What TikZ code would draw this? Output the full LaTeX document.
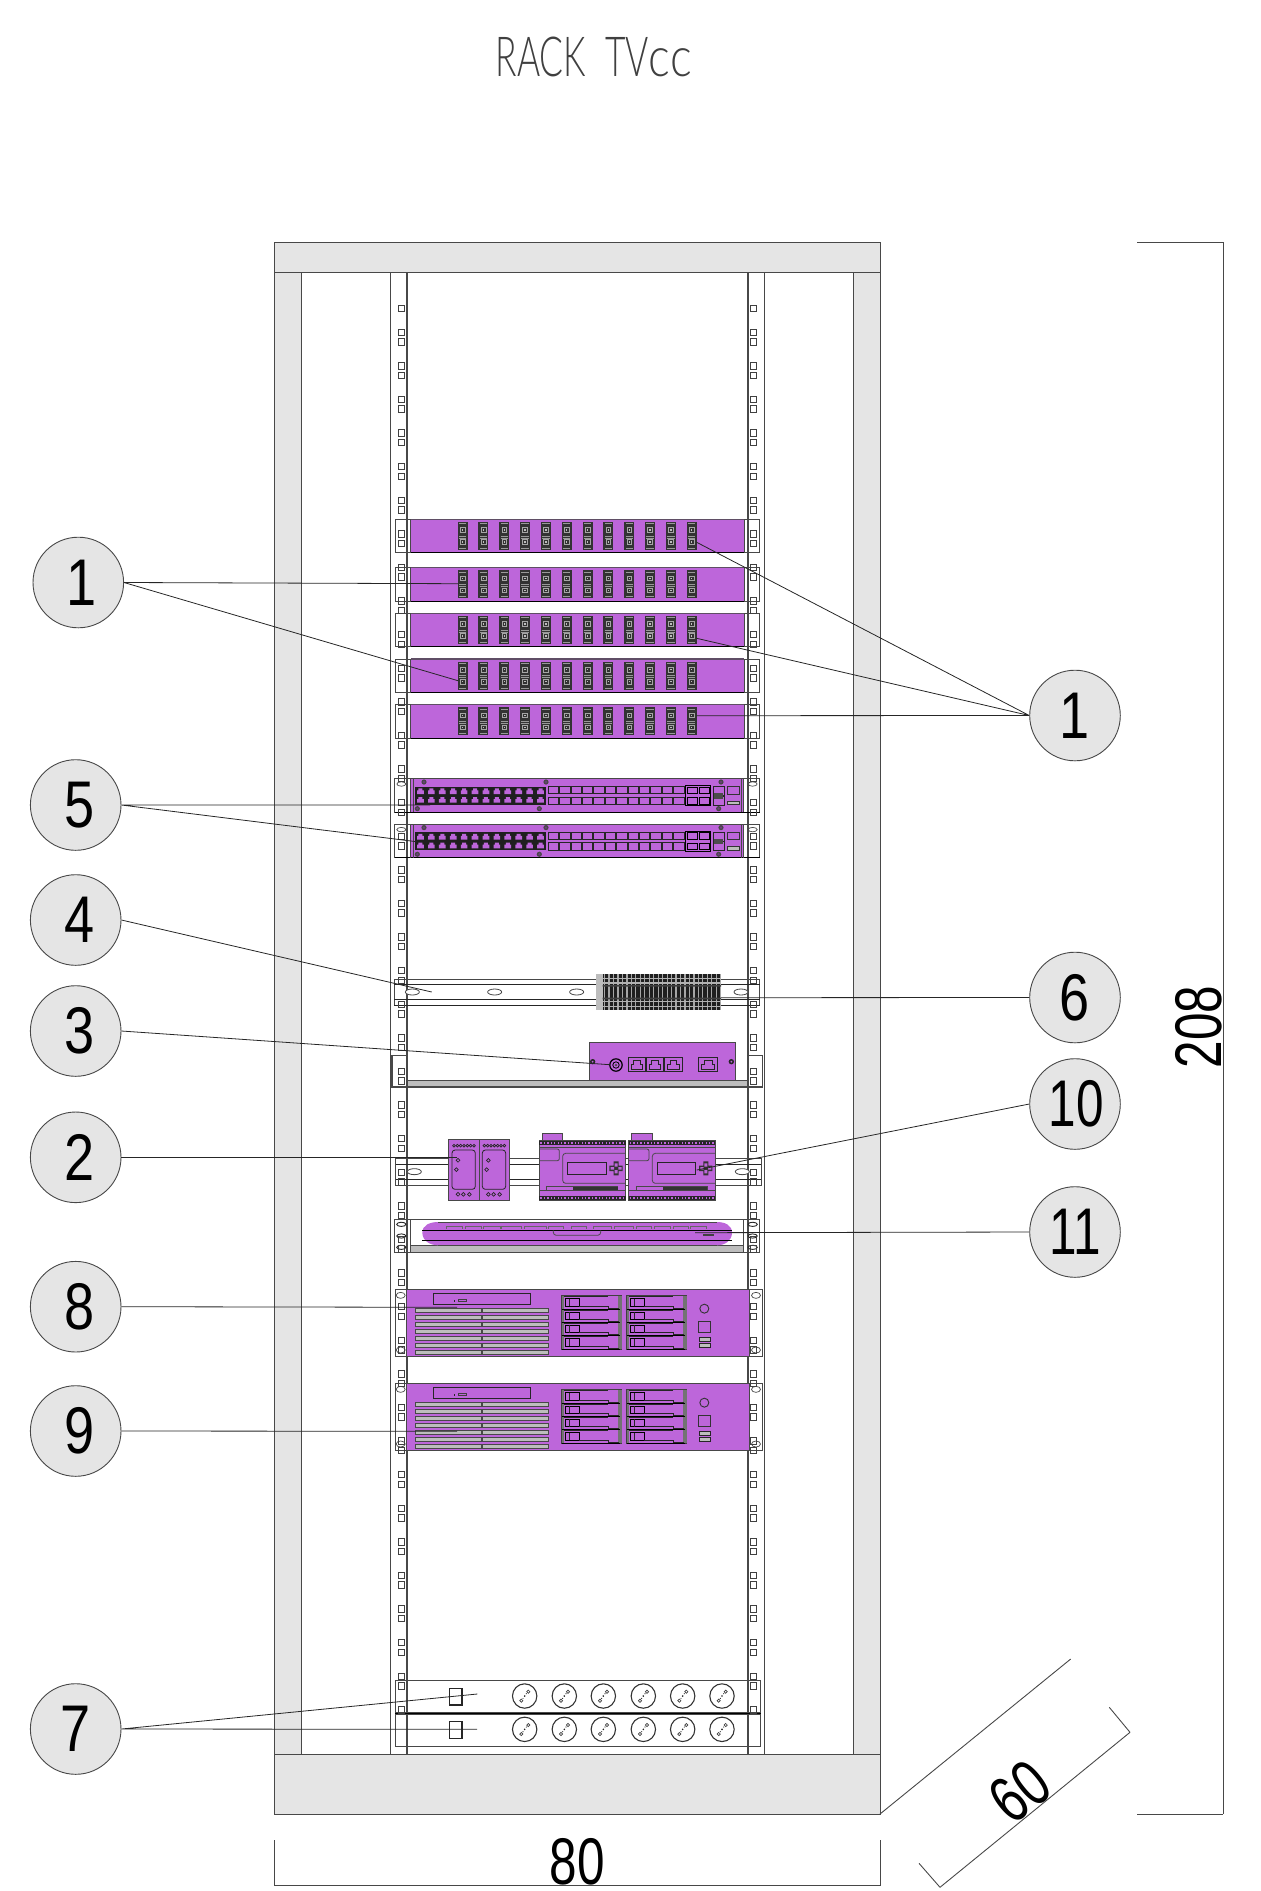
\documentclass[tikz,border=0pt]{standalone}
\usepackage{fontspec}
\usepackage{graphicx}
\setmainfont{Liberation Sans}
\newfontfamily\thinf{Lato Light}
\definecolor{pur}{HTML}{BD66DA}
\definecolor{pal}{HTML}{E5E5E5}
\definecolor{ln}{HTML}{484848}
\definecolor{midg}{HTML}{BDBDBD}
\newcommand{\dg}[1]{\scalebox{.75}[1]{\fontsize{66pt}{66pt}\selectfont #1}}
\newcommand{\sdg}[1]{\hspace*{7pt}\scalebox{.82}[1]{\fontsize{66pt}{66pt}\selectfont #1}}
\newcommand{\cdg}[1]{\scalebox{.82}[1]{\fontsize{66pt}{66pt}\selectfont #1}}
\tikzset{
  zoomc/.style 2 args={shift={(#1,#2)},x=.33333pt,y=-.33333pt},
  body/.style={draw=ln,line width=1pt},
  thin1/.style={draw=ln,line width=.7pt},
  purbox/.style={fill=pur,draw=ln,line width=.9pt},
  rackfill/.style={fill=pal,draw=ln,line width=1pt},
  balloon/.style={circle,draw=ln,line width=.9pt,fill=pal,minimum size=90.6pt,inner sep=0pt},
  leader/.style={draw=black!85,line width=.8pt},
  dimln/.style={draw=ln,line width=.9pt},
  dimtxt/.style={inner sep=0pt}
}
% patch panel, in crop coordinates; #1 top of panel
\newcommand{\patchpanel}[1]{%
  \draw[body] (46,#1) rectangle (1138,#1+100);
  \fill[pur] (92,#1) rectangle (1092,#1+100);
  \draw[draw=ln!80!pur,line width=1.1pt] (92,#1) -- (1092,#1);
  \draw[draw=black,line width=1pt] (92,#1+100) -- (1092,#1+100);
  \draw[ln,line width=.8pt] (92,#1) -- (92,#1+100) (1092,#1) -- (1092,#1+100);
  \foreach \i in {0,...,11}{%
    \begin{scope}[shift={({248+62.45*\i},#1+8)}]
      \fill[black!80] (-15,0) rectangle (15,84);
      \foreach \s in {4,41,47,78}{\fill[black!40] (-11,\s) rectangle (11,\s+2.5);}
      \foreach \c in {24,60}{%
        \draw[black!35,line width=.6pt] (-7,\c-7) rectangle (7,\c+7);
        \fill[black!25] (-2,\c-2) rectangle (2,\c+2);}
    \end{scope}}%
}
% network switch, crop coordinates, origin y of first switch
\newcommand{\netswitch}{%
  \draw[body] (44,836) rectangle (1139,937);
  \fill[pur] (90,836) rectangle (1090,937);
  \draw[ln,line width=1pt] (90,836) -- (1090,836);
  \draw[black,line width=1pt] (44,937) -- (1139,937);
  \draw[ln,line width=.8pt] (90,836) -- (90,937) (100,836) -- (100,937) (1083,836) -- (1083,937) (1090,836) -- (1090,937);
  \foreach \x in {64,1118}{\draw[thin1] (\x,852) ellipse [x radius=4.5pt,y radius=2.2pt];}
  \fill[black!88] (105,860) rectangle (498,914);
  \foreach \i in {0,...,11}{%
    \pgfmathsetmacro{\xc}{121.4+32.75*\i}
    \fill[pur] (\xc-10,882) -- (\xc-10,871) -- (\xc-6,871) -- (\xc-6,865) -- (\xc+6,865) -- (\xc+6,871) -- (\xc+10,871) -- (\xc+10,882) -- cycle;
    \fill[pur] (\xc-10,908) -- (\xc-10,897) -- (\xc-6,897) -- (\xc-6,891) -- (\xc+6,891) -- (\xc+6,897) -- (\xc+10,897) -- (\xc+10,908) -- cycle;}
  \foreach \i in {0,...,11}{%
    \pgfmathsetmacro{\xa}{505+34.2*\i}
    \draw[black!85,line width=.9pt] (\xa,860) rectangle (\xa+31,881);
    \draw[black!85,line width=.9pt] (\xa,892) rectangle (\xa+31,914);}
  \foreach \xa in {921,957}{%
    \draw[black,line width=.9pt] (\xa,861) rectangle (\xa+31,881);
    \draw[black,line width=.9pt] (\xa,893) rectangle (\xa+31,913);}
  \draw[black,line width=1.2pt] (917,857) rectangle (992,917);
  \draw[black!85,line width=.9pt] (1000,860) rectangle (1032,887) (1000,889) rectangle (1032,915);
  \fill[black!70] (1002,880) rectangle (1030,896);
  \draw[black!80,line width=.8pt] (1041,860) rectangle (1077,882);
  \draw[black!80,line width=.8pt,fill=midg] (1041,903) rectangle (1077,913);
  \foreach \x in {132,498,1023}{\fill[ln] (\x,846) circle[radius=2.6pt];\fill[pur!60!black] (\x,846) circle[radius=1.2pt];}
  \foreach \x in {112,478,1016}{\fill[ln] (\x,926) circle[radius=2.6pt];\fill[pur!60!black] (\x,926) circle[radius=1.2pt];}
}
% server, crop coordinates of first server
\newcommand{\serverbox}{%
  \draw[body] (46,58) rectangle (1146,260);
  \fill[pur] (78,58) rectangle (1108,260);
  \draw[ln,line width=1pt] (78,58) rectangle (1108,260);
  \foreach \x in {62,1128}{%
    \draw[thin1] (\x,76) ellipse [x radius=4.5pt,y radius=3pt];
    \draw[thin1] (\x,240) ellipse [x radius=4.5pt,y radius=3pt];}
  \draw[black!85,line width=.9pt] (160,70) rectangle (452,103);
  \fill[black!85] (221,91) rectangle (225,95);
  \draw[black!75,line width=.8pt] (236,88) rectangle (258,95);
  \foreach \v in {115,136,157,178,198,219,240}{%
    \draw[ln,fill=midg,line width=.8pt] (107,\v) rectangle (305,\v+12);
    \draw[ln,fill=midg,line width=.8pt] (308,\v) rectangle (505,\v+12);}
  \foreach \g in {545,740}{%
    \draw[black!75,line width=1.1pt] (\g,76) rectangle (\g+180,238);
    \fill[black!55] (\g+170,78) rectangle (\g+180,238);
    \fill[black!55] (\g,78) rectangle (\g+7,238);
    \foreach \r in {0,1,2,3}{%
      \pgfmathsetmacro{\yy}{78+40*\r}
      \draw[black,line width=.8pt] (\g+10,\yy+8) rectangle (\g+52,\yy+30);
      \draw[black!85,line width=.8pt] (\g+22,\yy+8) -- (\g+22,\yy+30);
      \draw[black!85,line width=.8pt] (\g+7,\yy+2) -- (\g+140,\yy+2) (\g+52,\yy+30) -- (\g+140,\yy+30) -- (\g+140,\yy+36) -- (\g+172,\yy+36);
      \draw[black,line width=1pt] (\g,\yy+39) -- (\g+175,\yy+39);}}
  \draw[black!80,line width=.9pt] (973,116) circle[radius=4.5pt];
  \draw[black!80,line width=.9pt] (956,153) rectangle (990,186);
  \draw[black!85,fill=midg,line width=.9pt] (958,203) rectangle (990,214);
  \draw[black!85,fill=midg,line width=.9pt] (958,220) rectangle (990,232);
}
\newcommand{\socket}[2]{%
  \begin{scope}[shift={(#1,#2)}]
    \draw[black!80,line width=1.1pt] (0,0) circle[radius=12.2pt];
    \draw[black!75,line width=.7pt] (11,-13) circle[radius=1.6pt] (-10,14) circle[radius=1.6pt];
    \fill[black!85] (0,0) circle[radius=.9pt] (5,-7) circle[radius=.6pt] (-5,7) circle[radius=.6pt];
  \end{scope}}
\newcommand{\powermod}[1]{%
  \begin{scope}[shift={(#1,0)}]
    \foreach \i in {0,...,6}{\draw[black!85,line width=.7pt] (222+10*\i,587) circle[radius=1.4pt];}
    \draw[black!85,line width=.8pt,rounded corners=3pt] (216,600) rectangle (286,718);
    \draw[black!85,line width=.7pt] (234,631) circle[radius=1.9pt] (229,659) circle[radius=1.9pt];
    \foreach \x in {234,250,268}{\draw[black!85,line width=.7pt] (\x,733) circle[radius=1.9pt];}
  \end{scope}}
\newcommand{\plc}[1]{%
  \begin{scope}[shift={(#1,0)}]
    \draw[purbox] (486,550) rectangle (548,570);
    \draw[purbox] (477,570) rectangle (737,751);
    \fill[black!85] (477,572) rectangle (737,585);
    \foreach \i in {0,...,24}{\fill[pur] (481+10.3*\i,575) rectangle (485+10.3*\i,582);}
    \draw[ln,line width=.8pt] (477,592) -- (737,592);
    \draw[ln,line width=.8pt,rounded corners=2pt] (477,597) -- (538,597) -- (538,632) -- (477,632);
    \draw[ln,line width=.8pt,rounded corners=3pt] (737,610) -- (548,610) -- (548,700) -- (737,700);
    \draw[black!85,line width=.9pt] (563,638) rectangle (678,672);
    \fill[black!80] (701,634) rectangle (716,676) (688,647) rectangle (728,663);
    \fill[pur] (704,640) rectangle (713,650) (704,660) rectangle (713,670) (692,651) rectangle (702,659) (715,651) rectangle (725,659);
    \draw[ln,line width=.8pt] (500,710) rectangle (713,720);
    \fill[black!80] (580,711) rectangle (713,719);
    \draw[ln,line width=.8pt] (477,722) -- (737,722);
    \fill[black!85] (477,738) rectangle (737,751);
    \foreach \i in {0,...,24}{\fill[pur] (481+10.3*\i,741) rectangle (485+10.3*\i,748);}
  \end{scope}}
\begin{document}
\begin{tikzpicture}[x=1pt,y=-1pt]
\useasboundingbox (0,0) rectangle (1261,1891);
\node[inner sep=0pt,text=black!75] (title) at (593.8,57) {\resizebox{196pt}{39.5pt}{\thinf RACK\ \ TV\scalebox{1.3}[1]{cc}}};

% cabinet
\draw[rackfill] (274.5,272) rectangle (301,1754);
\draw[rackfill] (853,272) rectangle (880,1754);
\draw[rackfill] (274.5,242) rectangle (880,272);
\draw[rackfill] (274.5,1754) rectangle (880,1814);
% rails
\draw[body] (390,272) -- (390,1754) (764.7,272) -- (764.7,1754);
\draw[draw=ln,line width=1.2pt] (407,272) -- (407,1754);
\draw[draw=ln,line width=1.2pt] (748,272) -- (748,1754);

% patch panels
\begin{scope}[zoomc={380}{500}]
  \foreach \t in {58,203,340,477,614}{\patchpanel{\t}}
  \netswitch
  \begin{scope}[yshift=-45.6pt]\netswitch\end{scope}
\end{scope}

% din rail, shelf, modules
\begin{scope}[zoomc={380}{950}]
  % din rail 1
  \draw[body] (42,87) rectangle (1139,166);
  \draw[black!85,line width=.9pt] (42,104) -- (1139,104) (42,148) -- (1139,148) (42,166) -- (1139,166);
  \foreach \x in {97,344,590,1083}{\draw[ln,fill=white,line width=.8pt] (\x,126) ellipse [x radius=7pt,y radius=3pt];}
  % terminal block
  \fill[black!88] (668,72) rectangle (1023,181);
  \fill[midg] (647,72) rectangle (668,181);
  \foreach \i in {0,...,26}{\fill[black!35] (672+13.4*\i,72) rectangle (675.5+13.4*\i,181);}
  \foreach \v in {84,97,153,167}{\fill[black!30] (668,\v) rectangle (1023,\v+3.5);}
  \fill[black!75] (668,105) rectangle (1023,110) (668,143) rectangle (1023,148);
  % shelf 3
  \draw[purbox,draw=none] (627,276) rectangle (1065,391);
  \draw[ln,line width=.7pt] (627,276) rectangle (1065,391);
  \fill[midg] (82,391) rectangle (1103,411);
  \draw[ln,line width=1.2pt] (36,316) rectangle (82,411) (1103,316) rectangle (1148,411);
  \draw[ln,line width=1.2pt] (36,411) -- (1148,411) (82,391) -- (1103,391);
  \fill[black!85] (638,335) circle[radius=2.7pt] (1054,335) circle[radius=2.7pt];
  \fill[pur] (638,335) circle[radius=1pt] (1054,335) circle[radius=1pt];
  \draw[black,line width=1.2pt] (708,345) circle[radius=6.2pt];
  \draw[black,line width=.8pt] (708,345) circle[radius=3.2pt];
  \draw[black!70,line width=.5pt,fill=black!70] (708,345) circle[radius=.9pt];
  \foreach \a/\b in {744/796,799/851,854/906,956/1012}{%
    \draw[black!85,line width=.9pt] (\a,323) rectangle (\b,364);
    \draw[black!85,line width=.7pt] (\a+9,358) -- (\a+9,342) -- (\a+16,342) -- (\a+16,332) -- (\b-16,332) -- (\b-16,342) -- (\b-9,342) -- (\b-9,358) -- cycle;}
  % din rail 2
  \draw[body] (47,625) rectangle (1143,706);
  \draw[black!85,line width=.9pt] (47,642) -- (1143,642) (47,688) -- (1143,688);
  \foreach \x in {103,1087}{\draw[ln,fill=white,line width=.8pt] (\x,665) ellipse [x radius=7pt,y radius=3pt];}
  % power modules
  \draw[purbox] (205,568) rectangle (297,751);
  \draw[purbox] (297,568) rectangle (388,751);
  \powermod{0}\powermod{91}
  \plc{0}\plc{269}
  % keyboard shelf
  \fill[midg] (90,886) rectangle (1090,907);
  \draw[ln,line width=1.1pt] (44,808) rectangle (1139,907);
  \draw[ln,line width=1pt] (90,808) -- (90,907) (1090,808) -- (1090,907) (90,886) -- (1090,886);
  \foreach \x in {64,1118}{\foreach \v in {823,858,892}{\draw[black!85,line width=.9pt] (\x,\v) ellipse [x radius=4.6pt,y radius=2.1pt];}}
  \fill[pur] (127,848) .. controls (127,825) and (150,816) .. (175,816) -- (1010,816) .. controls (1035,816) and (1056,825) .. (1056,848) .. controls (1056,872) and (1035,886) .. (1010,886) -- (175,886) .. controls (150,886) and (127,872) .. (127,848) -- cycle;
  \draw[ln,line width=.8pt] (175,816) -- (1010,816) (175,886) -- (1010,886);
  \draw[black,line width=.9pt] (127,841) -- (1056,841) (127,871) -- (1056,871);
  \draw[ln,line width=.8pt,rounded corners=3pt] (520,841) -- (520,856) -- (662,856) -- (662,841);
  \foreach \a/\b in {198/248,256/305,310/360,364/425,432/500,505/550,575/620,640/695,702/760,768/815,822/870,880/925,932/980}{\draw[black!60,line width=.7pt] (\a,836) -- (\a,829) -- (\b,829) -- (\b,836);}
  \fill[black!75] (968,853) rectangle (1002,858);
\end{scope}

% servers
\begin{scope}[zoomc={380}{1270}]
  \serverbox
  \begin{scope}[yshift=-94pt]\serverbox\end{scope}
\end{scope}

% power strips
\begin{scope}[zoomc={380}{1660}]
  \draw[body] (46,62) rectangle (1142,157);
  \draw[body] (46,163) rectangle (1142,259);
  \draw[black,line width=.9pt] (46,159) -- (1142,159);
  \draw[black!85,line width=1.3pt] (208,85) rectangle (246,135);
  \draw[black!85,line width=1.3pt] (208,185) rectangle (246,235);
  \foreach \x in {434,553,670,790,908,1026}{\socket{\x}{108}\socket{\x}{208}}
\end{scope}

% rail holes
\foreach \hx in {398,750}{%
  \foreach \k in {-1,...,41}{%
    \pgfmathsetmacro{\ya}{332.3+33.6*\k}
    \pgfmathsetmacro{\yb}{341.9+33.6*\k}
    \ifnum\k>-1 \draw[black!75,line width=.9pt] (\hx,\ya-3.2) rectangle (\hx+6.6,\ya+3.2);\fi
    \ifnum\k<41 \draw[black!75,line width=.9pt] (\hx,\yb-3.2) rectangle (\hx+6.6,\yb+3.2);\fi
  }}

% dimensions
\draw[dimln] (1137,242) -- (1223,242) (1223,242) -- (1223,1814) (1137,1814) -- (1223,1814);
\draw[dimln] (274.5,1840) -- (274.5,1886) (880,1840) -- (880,1886) (274.5,1885.7) -- (880,1885.7);
\draw[dimln] (880,1814) -- (1070.7,1659);
\draw[dimln] (940,1887.3) -- (1130,1732.3) (919,1863.3) -- (940,1887.3) (1109.3,1707.3) -- (1130,1732.3);
\node[dimtxt] (d208) at (1199,1027) {\rotatebox{90}{\dg{208}}};
\node[dimtxt] (d80) at (577.3,1861.5) {\dg{80}};
\node[dimtxt,rotate=39] (d60) at (1020,1791.7) {\dg{60}};

% balloons
\node[balloon] (bL1) at (78.3,582.5) {\sdg{1}};
\node[balloon] (bL5) at (75.7,805) {\sdg{5}};
\node[balloon] (bL4) at (75.7,920) {\sdg{4}};
\node[balloon] (bL3) at (75.7,1031) {\sdg{3}};
\node[balloon] (bL2) at (75.7,1157.3) {\sdg{2}};
\node[balloon] (bL8) at (75.7,1306.7) {\sdg{8}};
\node[balloon] (bL9) at (75.7,1431) {\sdg{9}};
\node[balloon] (bL7) at (75.7,1729) {\cdg{7}};
\node[balloon] (bR1) at (1075,715.5) {\cdg{1}};
\node[balloon] (bR6) at (1075,997.5) {\cdg{6}};
\node[balloon] (bR10) at (1075,1104) {\hspace*{3pt}\dg{10}};
\node[balloon] (bR11) at (1075,1232) {\dg{11}};

% leader ends
\coordinate (e1a) at (458,583.7);
\coordinate (e1b) at (458,680.7);
\coordinate (e1c) at (696.7,542.3);
\coordinate (e1d) at (696.7,638.3);
\coordinate (e1e) at (696.7,715.7);
\coordinate (e5a) at (430,805);
\coordinate (e5b) at (416.7,841.7);
\coordinate (e4) at (431.7,992);
\coordinate (e3) at (610,1064.7);
\coordinate (e2) at (456.7,1157.3);
\coordinate (e10) at (696.7,1170);
\coordinate (e6) at (721,997.7);
\coordinate (e11) at (695,1232.7);
\coordinate (e8) at (457,1307.3);
\coordinate (e9) at (457,1431.3);
\coordinate (e7a) at (477.3,1694);
\coordinate (e7b) at (477,1729.3);
\draw[leader] (bL1.east) -- (e1a) (bL1.east) -- (e1b);
\draw[leader] (bR1.west) -- (e1c) (bR1.west) -- (e1d) (bR1.west) -- (e1e);
\draw[leader] (bL5.east) -- (e5a) (bL5.east) -- (e5b);
\draw[leader] (bL4.east) -- (e4);
\draw[leader] (bL3.east) -- (e3);
\draw[leader] (bL2.east) -- (e2);
\draw[leader] (bR10.west) -- (e10);
\draw[leader] (bR6.west) -- (e6);
\draw[leader] (bR11.west) -- (e11);
\draw[leader] (bL8.east) -- (e8);
\draw[leader] (bL9.east) -- (e9);
\draw[leader] (bL7.east) -- (e7a) (bL7.east) -- (e7b);
\end{tikzpicture}
\end{document}
